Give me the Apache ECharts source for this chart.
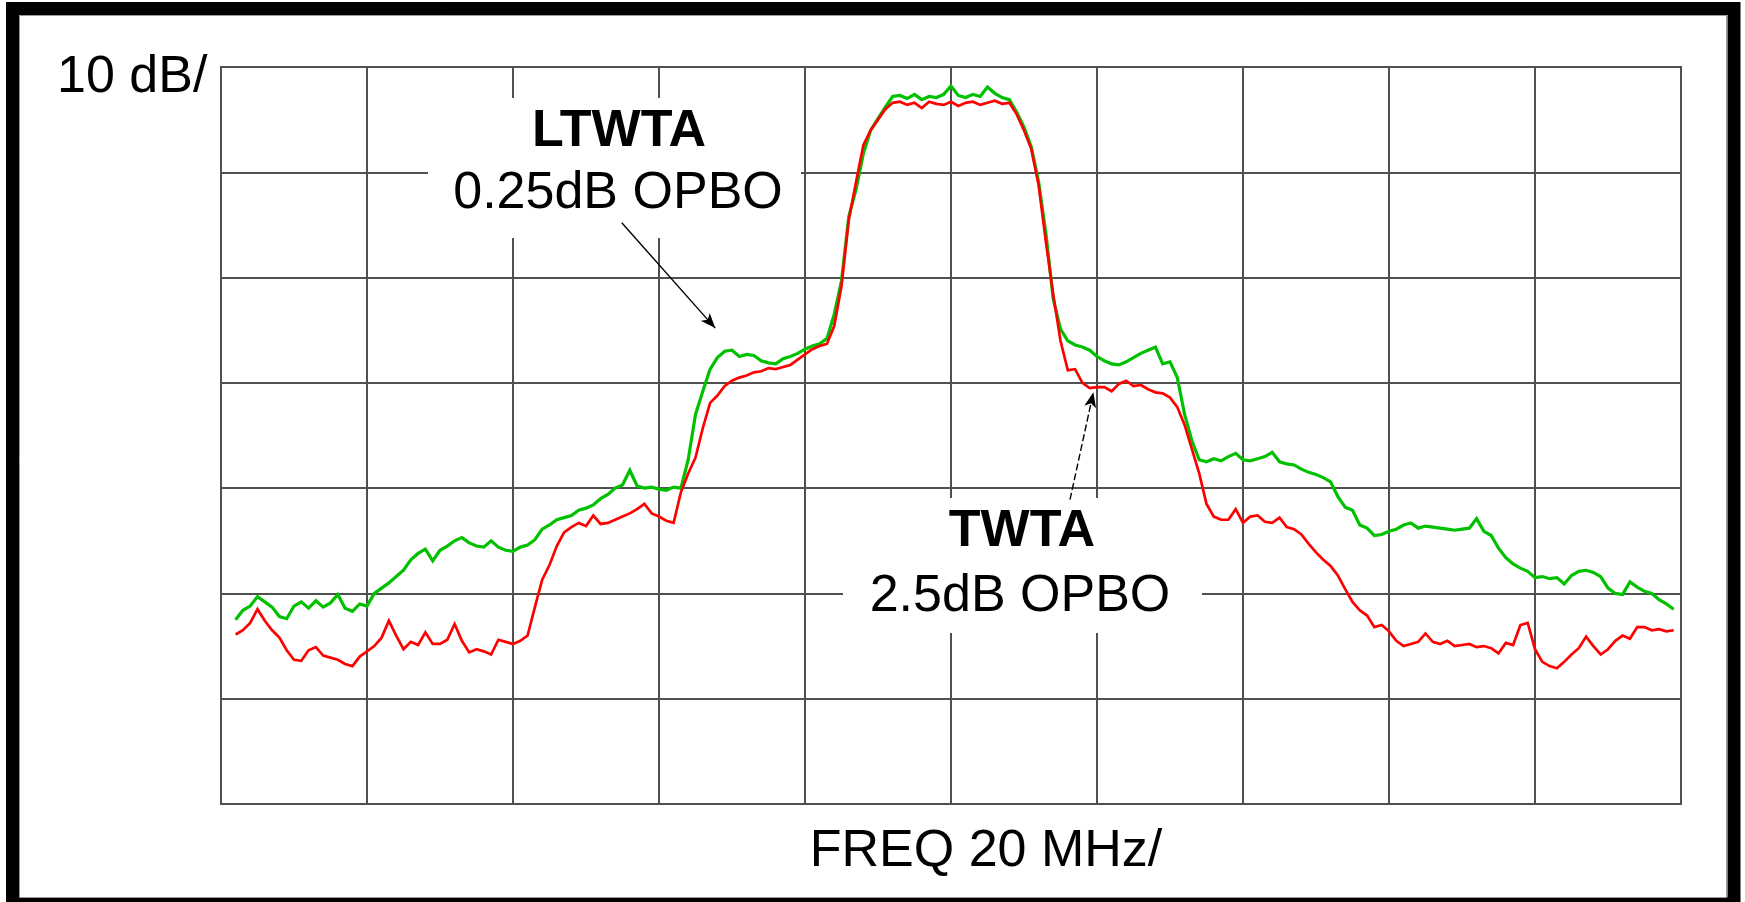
<!DOCTYPE html>
<html>
<head>
<meta charset="utf-8">
<title>LTWTA / TWTA output spectrum</title>
<script src="https://cdn.jsdelivr.net/npm/echarts@6/dist/echarts.min.js"></script>
<style>
  html, body { margin: 0; padding: 0; background: #fff; }
  #chart { width: 1745px; height: 902px; }
</style>
</head>
<body>
<div id="chart"></div>
<script>
// Analyzer screen: 20 MHz per horizontal division, 10 dB per vertical division
const FREQ_MIN = -100, FREQ_MAX = 100, FREQ_DIV = 20;
const LEVEL_MIN = -70, LEVEL_MAX = 0, LEVEL_DIV = 10;

// Sweep: first sample frequency and sample spacing, MHz
const SWEEP_START = -98;
const SWEEP_STEP = 1;

// LTWTA at 0.25 dB output back-off (dB, relative to top graticule line)
const ltwtaDb = [
  -52.5, -51.6, -51.2, -50.3, -50.8, -51.3, -52.2, -52.4, -51.2, -50.8,
  -51.4, -50.7, -51.3, -50.9, -50.1, -51.4, -51.7, -51.0, -51.2, -50.0,
  -49.5, -49.0, -48.4, -47.8, -46.8, -46.2, -45.8, -46.9, -45.9, -45.5,
  -45.0, -44.7, -45.2, -45.5, -45.6, -45.0, -45.6, -45.9, -46.0, -45.6,
  -45.4, -44.9, -43.9, -43.5, -43.0, -42.8, -42.6, -42.1, -41.9, -41.6,
  -41.0, -40.6, -40.0, -39.7, -38.3, -39.8, -40.0, -39.9, -40.1, -40.2,
  -39.9, -40.0, -37.3, -33.0, -30.8, -28.7, -27.6, -27.0, -26.9, -27.5,
  -27.3, -27.4, -27.9, -28.1, -28.2, -27.7, -27.5, -27.2, -26.8, -26.5,
  -26.3, -25.8, -23.5, -20.3, -14.2, -11.6, -8.2, -6.0, -4.9, -3.8,
  -2.8, -2.7, -3.0, -2.6, -3.1, -2.8, -2.9, -2.6, -1.8, -2.7,
  -2.9, -2.6, -2.8, -1.9, -2.5, -2.9, -3.1, -4.3, -5.7, -7.6,
  -10.9, -15.8, -22.0, -24.9, -26.0, -26.4, -26.6, -26.9, -27.5, -27.9,
  -28.2, -28.3, -28.0, -27.6, -27.2, -26.9, -26.6, -28.2, -28.0, -29.5,
  -33.0, -35.5, -37.3, -37.5, -37.2, -37.4, -37.0, -36.7, -37.3, -37.4,
  -37.2, -37.0, -36.6, -37.5, -37.7, -37.8, -38.2, -38.5, -38.7, -39.0,
  -39.4, -40.8, -41.8, -42.1, -43.5, -43.8, -44.5, -44.4, -44.1, -43.9,
  -43.5, -43.3, -43.8, -43.6, -43.7, -43.8, -43.9, -44.0, -43.9, -43.8,
  -42.9, -44.1, -44.5, -45.7, -46.6, -47.2, -47.6, -47.9, -48.5, -48.4,
  -48.6, -48.5, -49.1, -48.3, -47.9, -47.8, -48.0, -48.4, -49.5, -50.0,
  -50.1, -48.9, -49.4, -49.8, -50.0, -50.6, -51.0, -51.5
];

// TWTA at 2.5 dB output back-off
const twtaDb = [
  -53.9, -53.5, -52.8, -51.5, -52.6, -53.5, -54.2, -55.4, -56.3, -56.4,
  -55.4, -55.1, -55.9, -56.1, -56.3, -56.7, -56.9, -56.0, -55.5, -55.0,
  -54.2, -52.6, -54.0, -55.3, -54.6, -54.9, -53.7, -54.8, -54.8, -54.4,
  -52.9, -54.5, -55.6, -55.3, -55.5, -55.8, -54.4, -54.6, -54.8, -54.5,
  -54.0, -51.3, -48.7, -47.3, -45.5, -44.2, -43.7, -43.3, -43.6, -42.6,
  -43.4, -43.3, -43.0, -42.7, -42.4, -42.0, -41.5, -42.4, -42.7, -43.1,
  -43.3, -40.4, -38.6, -37.1, -34.3, -31.9, -31.2, -30.3, -29.8, -29.5,
  -29.3, -29.0, -28.9, -28.6, -28.7, -28.5, -28.3, -27.8, -27.3, -26.8,
  -26.5, -26.3, -24.6, -20.8, -14.5, -10.9, -7.4, -6.0, -5.0, -4.0,
  -3.4, -3.3, -3.6, -3.4, -3.9, -3.3, -3.5, -3.6, -3.3, -3.7,
  -3.4, -3.3, -3.6, -3.4, -3.2, -3.5, -3.4, -4.5, -6.0, -7.8,
  -11.2, -16.6, -21.6, -26.0, -28.8, -28.7, -30.0, -30.5, -30.4, -30.4,
  -30.8, -30.1, -29.8, -30.3, -30.2, -30.6, -30.9, -31.0, -31.4, -32.3,
  -34.0, -36.3, -38.6, -41.5, -42.7, -43.0, -43.0, -42.0, -43.3, -42.7,
  -42.6, -43.2, -43.3, -42.8, -43.7, -43.9, -44.4, -45.3, -46.1, -46.8,
  -47.4, -48.3, -49.6, -50.8, -51.6, -52.1, -53.2, -53.0, -53.6, -54.5,
  -55.0, -54.8, -54.6, -53.8, -54.6, -54.8, -54.5, -55.0, -54.9, -54.8,
  -55.1, -55.0, -55.2, -55.7, -54.7, -54.9, -53.0, -52.8, -55.3, -56.5,
  -56.9, -57.1, -56.5, -55.8, -55.2, -54.1, -55.0, -55.8, -55.3, -54.5,
  -54.0, -54.3, -53.2, -53.2, -53.5, -53.4, -53.6, -53.5
];

// Pointer arrows (MHz, dB): from the caption towards each trace
const ltwtaArrow = [[-45.1, -14.8], [-32.3, -24.8]];
const twtaArrow = [[16.3, -41.1], [19.5, -30.9]];

const scaleText = { level: '10 dB/', freq: 'FREQ 20 MHz/' };
const captions = {
  ltwta: ['LTWTA', '0.25dB OPBO'],
  twta: ['TWTA', '2.5dB OPBO']
};

const toPairs = (values) => values.map((v, i) => [SWEEP_START + i * SWEEP_STEP, v]);

const FONT = '"Liberation Sans", Arial, Helvetica, sans-serif';
const GRID_COLOR = '#505050';

const chart = echarts.init(document.getElementById('chart'), null, { renderer: 'canvas' });

chart.setOption({
  animation: false,
  backgroundColor: '#ffffff',
  grid: {
    left: 221, top: 67, width: 1460, height: 737,
    show: true, borderColor: GRID_COLOR, borderWidth: 2,
    backgroundColor: 'transparent'
  },
  xAxis: {
    type: 'value', min: FREQ_MIN, max: FREQ_MAX, interval: FREQ_DIV,
    axisLine: { show: false }, axisTick: { show: false }, axisLabel: { show: false },
    splitLine: { show: true, lineStyle: { color: GRID_COLOR, width: 2 } }
  },
  yAxis: {
    type: 'value', min: LEVEL_MIN, max: LEVEL_MAX, interval: LEVEL_DIV,
    axisLine: { show: false }, axisTick: { show: false }, axisLabel: { show: false },
    splitLine: { show: true, lineStyle: { color: GRID_COLOR, width: 2 } }
  },
  series: [
    {
      name: captions.ltwta.join(' '),
      type: 'line',
      data: toPairs(ltwtaDb),
      showSymbol: false,
      silent: true,
      z: 3,
      lineStyle: { color: '#00c000', width: 3.2, join: 'miter' },
      markLine: {
        silent: true,
        symbol: ['none', 'arrow'],
        symbolSize: [9, 15],
        label: { show: false },
        lineStyle: { color: '#000', width: 1.4, type: 'solid' },
        data: [[{ coord: ltwtaArrow[0] }, { coord: ltwtaArrow[1] }]]
      }
    },
    {
      name: captions.twta.join(' '),
      type: 'line',
      data: toPairs(twtaDb),
      showSymbol: false,
      silent: true,
      z: 4,
      lineStyle: { color: '#ff0000', width: 2.7, join: 'miter' },
      markLine: {
        silent: true,
        symbol: ['none', 'arrow'],
        symbolSize: [9, 15],
        label: { show: false },
        lineStyle: { color: '#000', width: 1.4, type: [7, 3] },
        data: [[{ coord: twtaArrow[0] }, { coord: twtaArrow[1] }]]
      }
    }
  ],
  graphic: [
    // screen frame
    { type: 'rect', z: 20, silent: true,
      shape: { x: 12.5, y: 8.5, width: 1721.5, height: 895 },
      style: { fill: 'none', stroke: '#000', lineWidth: 13 } },
    { type: 'rect', z: 20, silent: true,
      shape: { x: 19.5, y: 15.5, width: 1707, height: 882 },
      style: { fill: 'none', stroke: '#9a9a9a', lineWidth: 1 } },
    // caption backgrounds blank out the graticule
    { type: 'rect', z: 1, silent: true,
      shape: { x: 428, y: 98, width: 373, height: 140 },
      style: { fill: '#fff' } },
    { type: 'rect', z: 1, silent: true,
      shape: { x: 843, y: 498, width: 359, height: 135 },
      style: { fill: '#fff' } },
    // scale annotations
    { type: 'text', z: 10, silent: true, x: 57, y: 78,
      style: { text: scaleText.level, font: '52px ' + FONT, fill: '#000', align: 'left', verticalAlign: 'middle' } },
    { type: 'text', z: 10, silent: true, x: 986, y: 852,
      style: { text: scaleText.freq, font: '52px ' + FONT, fill: '#000', align: 'center', verticalAlign: 'middle' } },
    // trace captions
    { type: 'text', z: 10, silent: true, x: 619, y: 132,
      style: { text: captions.ltwta[0], font: 'bold 52px ' + FONT, fill: '#000', align: 'center', verticalAlign: 'middle' } },
    { type: 'text', z: 10, silent: true, x: 618, y: 194,
      style: { text: captions.ltwta[1], font: '52px ' + FONT, fill: '#000', align: 'center', verticalAlign: 'middle' } },
    { type: 'text', z: 10, silent: true, x: 1022, y: 532,
      style: { text: captions.twta[0], font: 'bold 52px ' + FONT, fill: '#000', align: 'center', verticalAlign: 'middle' } },
    { type: 'text', z: 10, silent: true, x: 1020, y: 597,
      style: { text: captions.twta[1], font: '52px ' + FONT, fill: '#000', align: 'center', verticalAlign: 'middle' } }
  ]
});
</script>
</body>
</html>
